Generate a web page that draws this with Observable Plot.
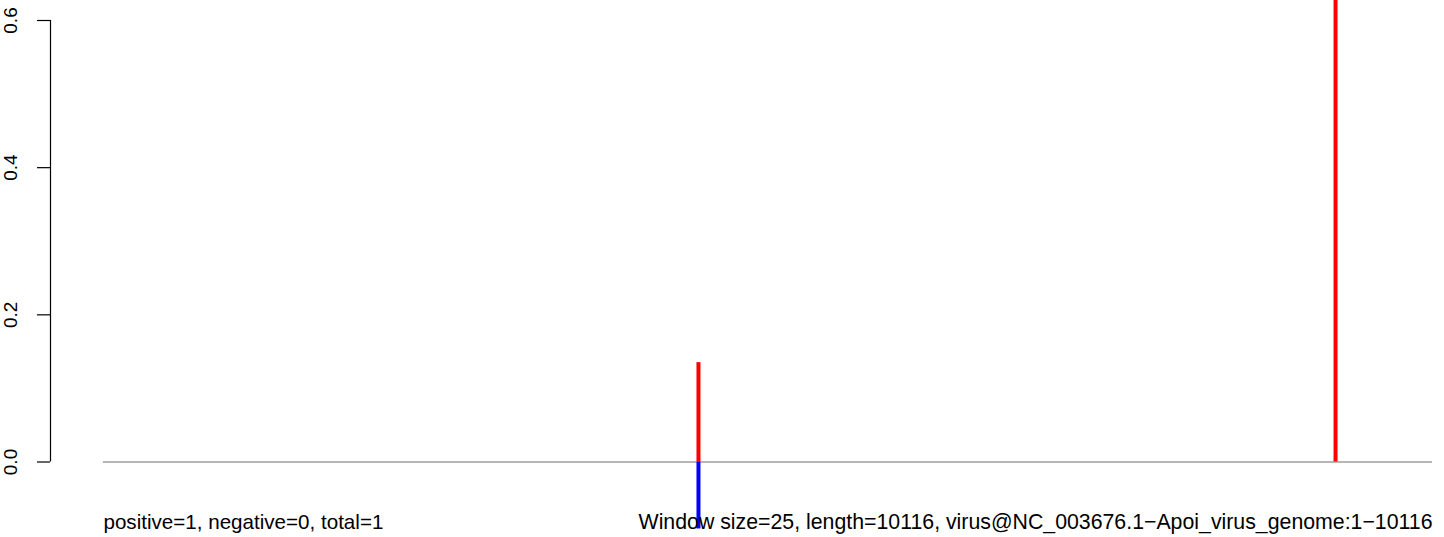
<!DOCTYPE html>
<html>
<head>
<meta charset="utf-8">
<script src="https://cdn.jsdelivr.net/npm/d3@7"></script>
<script src="https://cdn.jsdelivr.net/npm/@observablehq/plot@0.6"></script>
<style>
  html, body { margin: 0; padding: 0; background: #fff; }
  #chart svg { display: block; overflow: hidden; }
</style>
</head>
<body>
<div id="chart"></div>
<script>
// ---- data ----
const genomeLength = 10116;
const windowSize = 25;
const genomeName = "virus@NC_003676.1\u2212Apoi_virus_genome:1\u221210116";
const positions = [4529, 4529, 9378];
const scores = [0.135, -0.091, 0.70];
const strands = ["positive", "negative", "positive"];
const strandColors = ["#FF0000", "#0000FF"];
const yTicks = [0, 0.2, 0.4, 0.6];
const xLimits = [-403, genomeLength];
const yLimits = [0, 0.6];
const countPositive = 1, countNegative = 0, countTotal = 1;

const leftCaption = `positive=${countPositive}, negative=${countNegative}, total=${countTotal}`;
const rightCaption = `Window size=${windowSize}, length=${genomeLength}, ${genomeName}`;

const bars = positions.map((p, i) => ({pos: p, score: scores[i], strand: strands[i]}));

const font = "'Liberation Sans', Arial, Helvetica, sans-serif";

const chart = Plot.plot({
  width: 1444,
  height: 537,
  marginLeft: 50,
  marginRight: 12,
  marginTop: 20,
  marginBottom: 75.5,
  style: {fontFamily: font, fontSize: "19px", background: "#fff", color: "#000"},
  x: {domain: xLimits, axis: null},
  y: {domain: yLimits},
  color: {domain: ["positive", "negative"], range: strandColors},
  marks: [
    Plot.ruleY([0], {x1: 0, x2: genomeLength, stroke: "#9E9E9E", strokeWidth: 1.3}),
    Plot.ruleX(bars, {x: "pos", y1: 0, y2: "score", stroke: "strand", strokeWidth: 4}),
    Plot.ruleX([xLimits[0]], {y1: yLimits[0], y2: yLimits[1], stroke: "#000", strokeWidth: 1.2}),
    Plot.axisY(yTicks, {
      anchor: "left",
      tickSize: 13,
      tickPadding: 21,
      tickRotate: -90,
      tickFormat: d3.format(".1f"),
      fontSize: 19,
      stroke: "#000",
      strokeWidth: 1.2,
      label: null
    }),
    Plot.text([leftCaption], {x: 0, frameAnchor: "bottom", textAnchor: "start", lineAnchor: "bottom", dy: 66.5, fontSize: 20.6, fill: "#000"}),
    Plot.text([rightCaption], {x: genomeLength, frameAnchor: "bottom", textAnchor: "end", lineAnchor: "bottom", dy: 66.5, fontSize: 21.3, fill: "#000"})
  ]
});
document.getElementById("chart").appendChild(chart);
</script>
</body>
</html>
